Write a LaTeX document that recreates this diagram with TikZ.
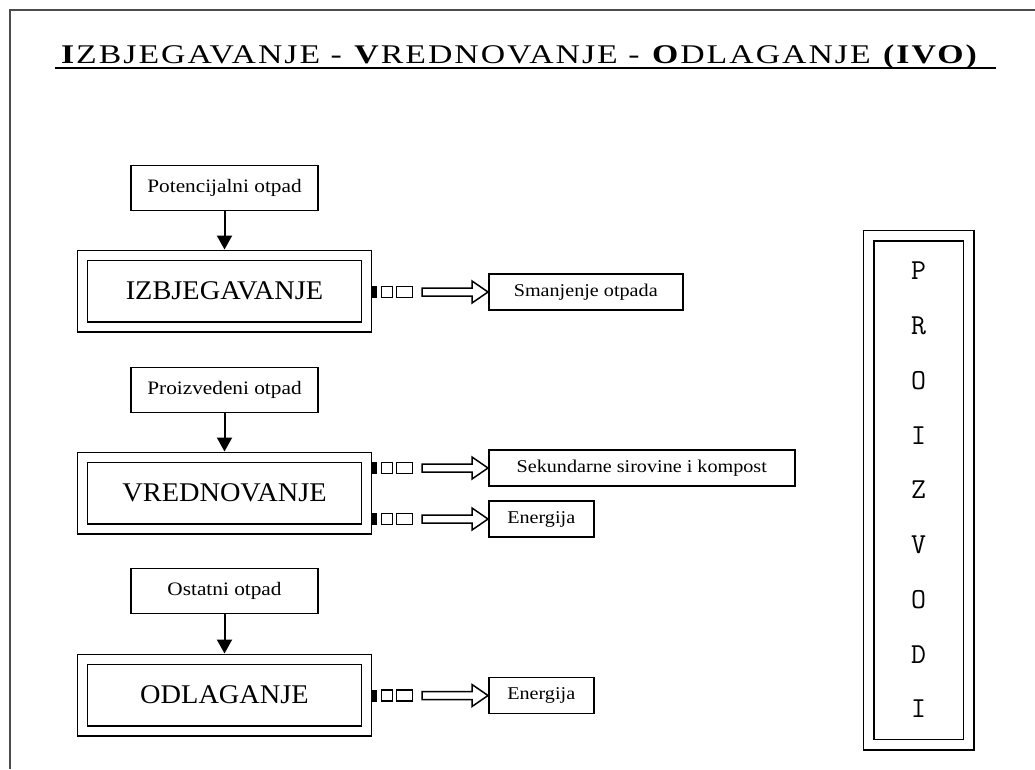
\documentclass[tikz,border=0pt]{standalone}
\usepackage{fontspec}
\setmainfont{Liberation Serif}
\newfontfamily\titlefont[LetterSpace=6]{Liberation Serif}
\usetikzlibrary{arrows.meta}

\tikzset{every picture/.style={line width=0.75pt}}

% squares on the box side, block arrow into the result box
\newcommand{\outlink}[2]{%
    \fill (#1.east |- #2.west) ++(0,-6) rectangle ++(5,12);
    \draw (#1.east |- #2.west) ++(9,-5.5) rectangle ++(11,11);
    \draw (#1.east |- #2.west) ++(24,-5.5) rectangle ++(16,11);
    \draw (#2.west) -- ++(-16,-11) -- ++(0,7) -- ++(-50,0) -- ++(0,8) -- ++(50,0) -- ++(0,7) -- cycle;
}

\begin{document}
\begin{tikzpicture}[
            x=1pt,
            y=1pt,
            yscale=-1,
            xscale=1,
            every node/.style={text=black},
            line width=1.5pt,
            inbox/.style={draw, minimum width=187, minimum height=45, inner sep=0pt, font=\fontsize{19}{19}\selectfont},
            stagebox/.style={draw, double, double distance=8.5pt, minimum width=284, minimum height=71.5, inner sep=0pt, outer sep=5.75pt, font=\fontsize{27}{27}\selectfont},
            outbox/.style={draw, minimum height=36, inner sep=0pt, anchor=west, font=\fontsize{18}{18}\selectfont},
            down/.style={-{Triangle[width=15pt,length=14pt]}, line width=2pt}
        ]
            \useasboundingbox (0,0) rectangle (1035,769);
            \draw [line width=2pt, black!70] (10,769) -- (10,10) -- (1035,10);

            \node [anchor=base, font=\titlefont\fontsize{27}{27}\selectfont] (title) at (520,63) {\scalebox{1.25}[1]{\textbf{I}ZBJEGAVANJE - \textbf{V}REDNOVANJE - \textbf{O}DLAGANJE \textbf{(IVO)}}};
            \draw (55,68) -- (996,68);

            \node [inbox] (potenc) at (224.5,188) {\scalebox{1.12}[1]{Potencijalni otpad}};
            \node [stagebox] (izbj) at (224.5,291) {\scalebox{1.05}[1]{IZBJEGAVANJE}};
            \node [inbox] (proizv) at (224.5,390) {\scalebox{1.12}[1]{Proizvedeni otpad}};
            \node [stagebox] (vred) at (224.5,493) {\scalebox{1.05}[1]{VREDNOVANJE}};
            \node [inbox] (ostatni) at (224.5,591) {\scalebox{1.12}[1]{Ostatni otpad}};
            \node [stagebox] (odlag) at (224.5,695) {\scalebox{1.05}[1]{ODLAGANJE}};

            \node [outbox, minimum width=194] (smanj) at (488,292) {\scalebox{1.12}[1]{Smanjenje otpada}};
            \node [outbox, minimum width=306] (sekund) at (488,468) {\scalebox{1.12}[1]{Sekundarne sirovine i kompost}};
            \node [outbox, minimum width=105] (energ1) at (488,519) {\scalebox{1.12}[1]{Energija}};
            \node [outbox, minimum width=105] (energ2) at (488,695.5) {\scalebox{1.12}[1]{Energija}};

            \node [draw, double, double distance=9pt, minimum width=100, minimum height=509, align=center, font=\ttfamily\fontsize{29}{54.75}\selectfont] (proizvodi) at (918.5,490) {P\\R\\O\\I\\Z\\V\\O\\D\\I};

            \draw [down] (potenc) -- (izbj);
            \draw [down] (proizv) -- (vred);
            \draw [down] (ostatni) -- (odlag);

            \outlink{izbj}{smanj}
            \outlink{vred}{sekund}
            \outlink{vred}{energ1}
            \outlink{odlag}{energ2}
        \end{tikzpicture}
\end{document}
